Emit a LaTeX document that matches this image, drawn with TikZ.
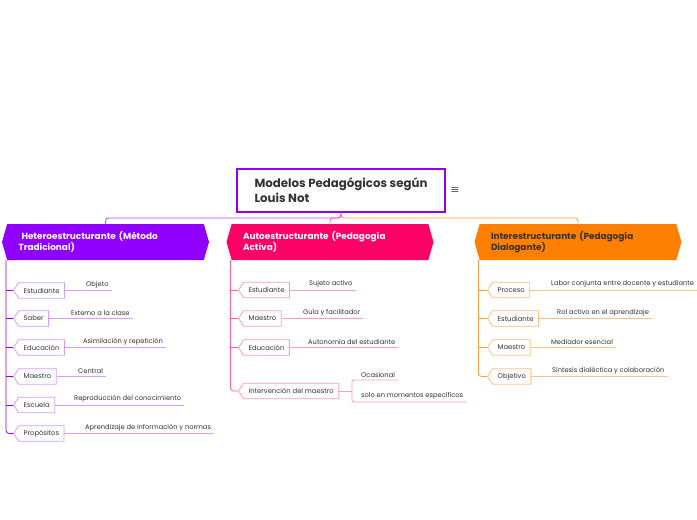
\documentclass[tikz,border=0pt]{standalone}
\usepackage{fontspec}
\setmainfont{Poppins}
\newfontfamily\dejavu{DejaVu Sans}
\usetikzlibrary{shapes.symbols,calc}
\definecolor{purpD}{HTML}{9000FF}
\definecolor{purpM}{HTML}{B04DFF}
\definecolor{purpL}{HTML}{D69CFF}
\definecolor{pinkD}{HTML}{FF0066}
\definecolor{pinkM}{HTML}{FF5C99}
\definecolor{pinkL}{HTML}{FF99BF}
\definecolor{oranD}{HTML}{FF8000}
\definecolor{oranM}{HTML}{FFA040}
\definecolor{oranL}{HTML}{FFC080}
\definecolor{txt}{HTML}{333333}
\tikzset{
  mainbox/.style={signal, signal to=west and east, signal pointer angle=148,
    minimum height=36pt, minimum width=207pt, text width=174pt, align=left,
    inner xsep=0pt, inner ysep=0pt, font=\fontsize{8.9}{11}\selectfont\bfseries},
  childbox/.style={signal, signal to=west, signal pointer angle=112, draw=#1,
    fill=white, line width=0.8pt, minimum height=15.5pt, inner xsep=5pt,
    inner ysep=0pt, font=\fontsize{6.8}{8}\selectfont, text=txt, anchor=west},
  leaf/.style={anchor=south west, inner xsep=3pt, inner ysep=2.5pt,
    font=\fontsize{6.7}{8}\selectfont, text=txt},
  trunk/.style={line width=0.8pt, rounded corners=3pt},
  twig/.style={line width=0.8pt},
}
\begin{document}
\begin{tikzpicture}[x=1pt,y=-1pt]
\path[use as bounding box, fill=white] (0,0) rectangle (697,520);

% root
\node[draw=purpD, line width=1.8pt, fill=white, minimum width=208pt, minimum height=43pt,
  align=left, text=txt, font=\fontsize{11.8}{15}\selectfont\bfseries, inner sep=0pt]
  (root) at (341,190.5) {Modelos Pedagógicos según\\Louis Not};
\node[text=black!65, font=\dejavu\fontsize{11}{11}\selectfont, inner sep=0pt] (icon) at (455,191) {≡};

% main nodes
\node[mainbox, fill=purpD, text=white] (h1) at (105.5,242) {\hspace*{3pt}Heteroestructurante (Método\\Tradicional)};
\node[mainbox, fill=pinkD, text=white] (h2) at (330,242) {Autoestructurante (Pedagogía\\Activa)};
\node[mainbox, fill=oranD, text=txt] (h3) at (578,242) {Interestructurante (Pedagogía\\Dialogante)};

\draw[purpM, line width=0.8pt, rounded corners=3pt] (root.south) -- ++(0,5) -| (h1.north);
\draw[oranM, line width=0.8pt, rounded corners=3pt] (root.south) -- ++(0,5) -| (h3.north);
\draw[pinkM, line width=0.8pt, rounded corners=3pt] (root.south) -- ++(0,5) -| (h2.north);

% ---------- purple branch
\node[childbox=purpL] (p1) at (13,290.5) {Estudiante};
\node[childbox=purpL] (p2) at (13,318.5) {Saber};
\node[childbox=purpL] (p3) at (13,347.5) {Educación};
\node[childbox=purpL] (p4) at (13,376.5) {Maestro};
\node[childbox=purpL] (p5) at (13,405) {Escuela};
\node[childbox=purpL] (p6) at (13,433.5) {Propósitos};
\coordinate (pt) at ($(h1.south west)+(-1,0)$);
\draw[trunk, purpD] (pt) |- (p6.west);
\foreach \c in {p1,p2,p3,p4,p5} \draw[twig, purpD] (pt |- \c.west) -- (\c.west);

\node[leaf] (pl1) at (83,290.5) {Objeto};
\node[leaf] (pl2) at (68,318.5) {Externo a la clase};
\node[leaf] (pl3) at (80,347.5) {Asimilación y repetición};
\node[leaf] (pl4) at (75,376.5) {Central};
\node[leaf] (pl5) at (71,405) {Reproducción del conocimiento};
\node[leaf] (pl6) at (82,433.5) {Aprendizaje de información y normas};
\foreach \a/\b in {p1/pl1,p2/pl2,p3/pl3,p4/pl4,p5/pl5,p6/pl6}
  \draw[twig, purpL] (\a.east) -- (\b.south east);

% ---------- pink branch
\node[childbox=pinkL] (k1) at (238,290) {Estudiante};
\node[childbox=pinkL] (k2) at (238,318.5) {Maestro};
\node[childbox=pinkL] (k3) at (238,347.5) {Educación};
\node[childbox=pinkL] (k4) at (238,391) {Intervención del maestro};
\coordinate (kt) at ($(h2.south west)+(-1,0)$);
\draw[trunk, pinkM] (kt) |- (k4.west);
\foreach \c in {k1,k2,k3} \draw[twig, pinkM] (kt |- \c.west) -- (\c.west);

\node[leaf] (kl1) at (306,290) {Sujeto activo};
\node[leaf] (kl2) at (300,318.5) {Guía y facilitador};
\node[leaf] (kl3) at (305,347.5) {Autonomía del estudiante};
\foreach \a/\b in {k1/kl1,k2/kl2,k3/kl3}
  \draw[twig, pinkL] (\a.east) -- (\b.south east);
\node[leaf] (kl4) at (358,380) {Ocasional};
\node[leaf] (kl5) at (358,402) {solo en momentos específicos};
\coordinate (kb) at (352,391);
\draw[twig, pinkL] (k4.east) -- (kb);
\draw[twig, pinkL, rounded corners=2pt] (kl4.south east) -- (kb |- kl4.south) -- (kb |- kl5.south) -- (kl5.south east);

% ---------- orange branch
\node[childbox=oranL] (o1) at (487,290) {Proceso};
\node[childbox=oranL] (o2) at (487,318.5) {Estudiante};
\node[childbox=oranL] (o3) at (487,347.5) {Maestro};
\node[childbox=oranL] (o4) at (487,376.5) {Objetivo};
\coordinate (ot) at ($(h3.south west)+(-1,0)$);
\draw[trunk, oranM] (ot) |- (o4.west);
\foreach \c in {o1,o2,o3} \draw[twig, oranM] (ot |- \c.west) -- (\c.west);

\node[leaf] (ol1) at (548,290) {Labor conjunta entre docente y estudiante};
\node[leaf] (ol2) at (554,318.5) {Rol activo en el aprendizaje};
\node[leaf] (ol3) at (548,347.5) {Mediador esencial};
\node[leaf] (ol4) at (549,376.5) {Síntesis dialéctica y colaboración};
\foreach \a/\b in {o1/ol1,o2/ol2,o3/ol3,o4/ol4}
  \draw[twig, oranL] (\a.east) -- (\b.south east);
\end{tikzpicture}
\end{document}
